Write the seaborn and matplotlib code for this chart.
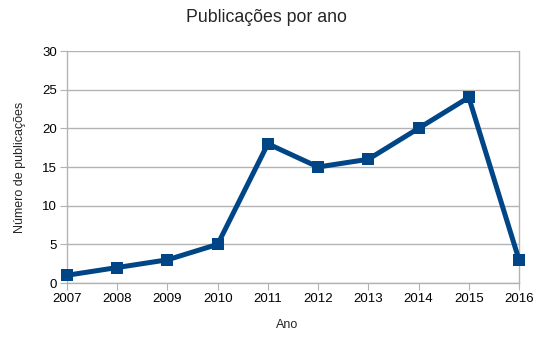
import matplotlib
matplotlib.use("Agg")
import matplotlib.pyplot as plt
import seaborn as sns
import pandas as pd

anos = [2007, 2008, 2009, 2010, 2011, 2012, 2013, 2014, 2015, 2016]
publicacoes = [1, 2, 3, 5, 18, 15, 16, 20, 24, 3]

sns.set_style("white")
plt.rcParams['font.family'] = ['Liberation Sans', 'DejaVu Sans']

df = pd.DataFrame({"Ano": anos, "Publicações": publicacoes})

fig = plt.figure(figsize=(5.52, 3.47), dpi=100)
ax = fig.add_axes([67/552, 1-283/347, (519-67)/552, (283-51)/347])

sns.lineplot(data=df, x="Ano", y="Publicações", ax=ax, color="#004586",
             linewidth=3.6, marker="s", markersize=9, markeredgewidth=0,
             clip_on=False, zorder=5)

ax.set_xlim(2007, 2016)
ax.set_ylim(0, 30)
ax.set_xticks(anos)
ax.set_xticklabels([str(a) for a in anos])
ax.set_yticks([0, 5, 10, 15, 20, 25, 30])
ax.yaxis.grid(True, color="#b3b3b3", linewidth=1)
ax.xaxis.grid(False)
ax.spines["top"].set_visible(False)
for s in ["left", "right", "bottom"]:
    ax.spines[s].set_color("#b3b3b3")
    ax.spines[s].set_linewidth(1)
ax.tick_params(axis="both", which="both", length=5, color="#b3b3b3",
               labelsize=9.5, labelcolor="#000000", direction="out", pad=2,
               bottom=True, left=True)
ax.set_xlabel("Ano", fontsize=9, va="center")
ax.xaxis.set_label_coords((287-67)/(519-67), -(325-283)/(283-51))
ax.set_ylabel("Número de publicações", fontsize=9, labelpad=12)
fig.text(266/552, 1-18/347, "Publicações por ano", ha="center", va="center", fontsize=12.8)

fig.savefig("out.png", dpi=100)
